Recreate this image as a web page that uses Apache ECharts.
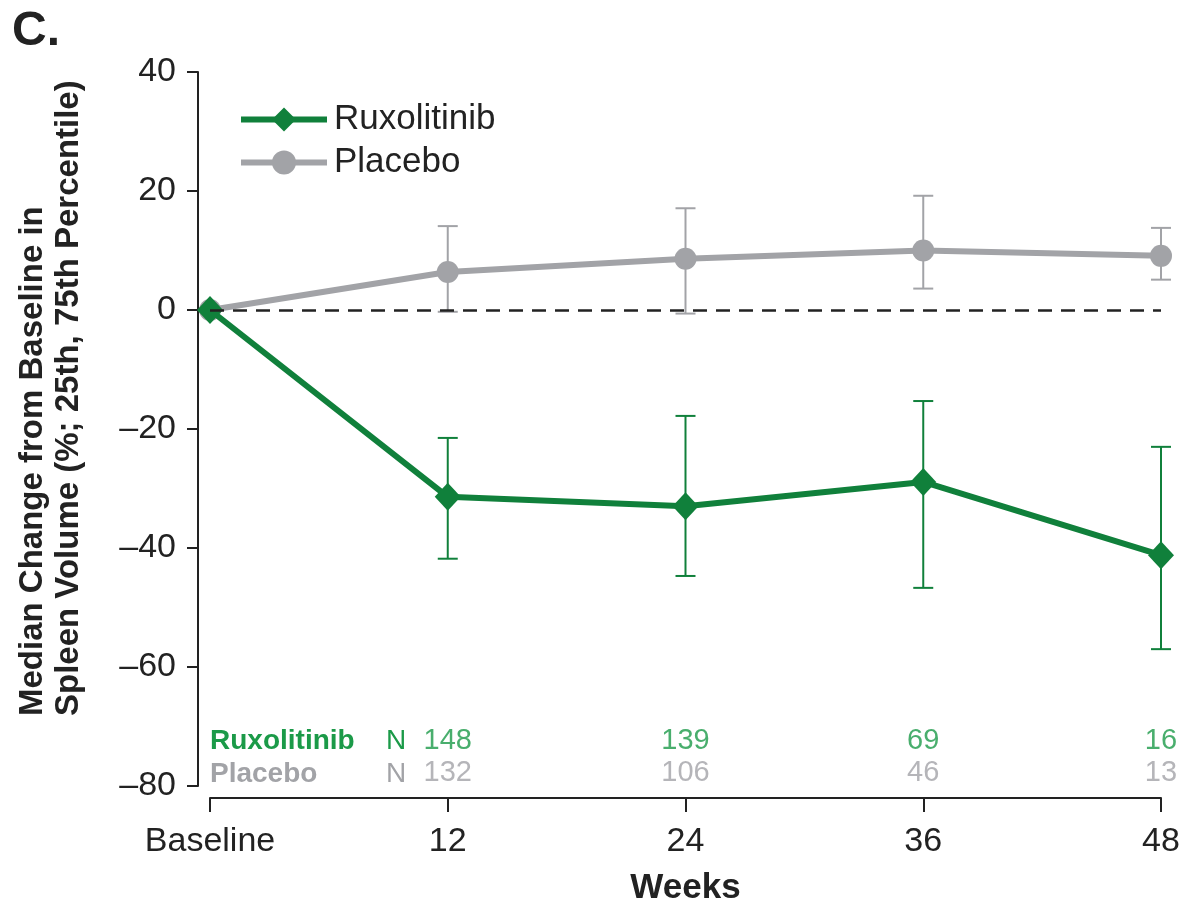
<!DOCTYPE html>
<html>
<head>
<meta charset="utf-8">
<script src="https://cdn.jsdelivr.net/npm/echarts@6/dist/echarts.min.js"></script>
<style>
  html, body { margin: 0; padding: 0; background: #fff; }
  #chart { width: 1196px; height: 904px; }
</style>
</head>
<body>
<div id="chart"></div>
<script>
  // weeks (0 = Baseline)
  var weeks = [0, 12, 24, 36, 48];
  var xTickLabels = ['Baseline', '12', '24', '36', '48'];

  // median % change, 25th and 75th percentiles
  var ruxMedian = [0, -31.4, -33.0, -28.9, -41.2];
  var ruxP25 = [0, -41.8, -44.7, -46.7, -57.0];
  var ruxP75 = [0, -21.5, -17.8, -15.3, -23.0];

  var pboMedian = [0, 6.4, 8.6, 10.0, 9.1];
  var pboP25 = [0, -0.3, -0.6, 3.6, 5.1];
  var pboP75 = [0, 14.1, 17.1, 19.2, 13.8];

  // patients at risk, weeks 12..48
  var nWeeks = [12, 24, 36, 48];
  var ruxN = [148, 139, 69, 16];
  var pboN = [132, 106, 46, 13];

  var GREEN = '#10803b';
  var GREEN_TXT = '#1b9a48';
  var GRAY = '#a2a3a7';
  var FONT = '"Liberation Sans", Arial, Helvetica, sans-serif';

  function pairs(xs, ys) {
    return xs.map(function (x, i) { return [x, ys[i]]; });
  }
  function errData(lo, hi) {
    var out = [];
    for (var i = 1; i < weeks.length; i++) out.push([weeks[i], lo[i], hi[i]]);
    return out;
  }
  function errRender(color) {
    return function (params, api) {
      var top = api.coord([api.value(0), api.value(2)]);
      var bot = api.coord([api.value(0), api.value(1)]);
      var half = 10;
      var st = { stroke: color, lineWidth: 2 };
      return {
        type: 'group',
        children: [
          { type: 'line', shape: { x1: top[0], y1: top[1], x2: bot[0], y2: bot[1] }, style: st },
          { type: 'line', shape: { x1: top[0] - half, y1: top[1], x2: top[0] + half, y2: top[1] }, style: st },
          { type: 'line', shape: { x1: bot[0] - half, y1: bot[1], x2: bot[0] + half, y2: bot[1] }, style: st }
        ]
      };
    };
  }
  function nSeries(vals, y, color) {
    return {
      type: 'scatter',
      symbolSize: 0,
      silent: true,
      data: nWeeks.map(function (w, i) { return [w, y, vals[i]]; }),
      label: {
        show: true, position: 'inside',
        formatter: function (p) { return String(p.value[2]); },
        color: color, fontSize: 29, fontFamily: FONT
      },
      z: 5
    };
  }

  var chart = echarts.init(document.getElementById('chart'));
  var option = {
    animation: false,
    backgroundColor: '#fff',
    textStyle: { fontFamily: FONT },
    grid: { left: 210, right: 35, top: 72, bottom: 118, outerBoundsMode: 'none', containLabel: false },
    legend: {
      data: ['Ruxolitinib', 'Placebo'],
      orient: 'vertical',
      left: 238, top: 102,
      padding: 0,
      itemWidth: 86, itemHeight: 30,
      itemGap: 8,
      lineStyle: { width: 6 },
      textStyle: { fontSize: 35, color: '#222', fontFamily: FONT, padding: [0, 0, 0, 2] }
    },
    xAxis: {
      type: 'value',
      min: 0, max: 48, interval: 12,
      offset: 12,
      axisLine: { onZero: false, lineStyle: { color: '#222', width: 2 } },
      axisTick: { length: 14, lineStyle: { color: '#222', width: 2 } },
      splitLine: { show: false },
      axisLabel: {
        fontSize: 34, color: '#222', margin: 27,
        formatter: function (v) { return xTickLabels[weeks.indexOf(v)]; }
      },
      name: 'Weeks',
      nameLocation: 'middle',
      nameGap: 73,
      nameTextStyle: { fontSize: 35, fontWeight: 'bold', color: '#222' }
    },
    yAxis: {
      type: 'value',
      min: -80, max: 40, interval: 20,
      offset: 12,
      axisLine: { show: true, onZero: false, lineStyle: { color: '#222', width: 2 } },
      axisTick: { show: true, length: 11, lineStyle: { color: '#222', width: 2 } },
      splitLine: { show: false },
      axisLabel: {
        fontSize: 34, color: '#222', margin: 22,
        formatter: function (v) { return String(v).replace('-', '\u2013'); }
      }
    },
    graphic: [
      { type: 'text', left: 12, top: 8, style: { text: 'C.', fontSize: 48, fontWeight: 'bold', fill: '#222', fontFamily: FONT } },
      { type: 'text', x: 33, y: 716, rotation: Math.PI / 2,
        style: { text: 'Median Change from Baseline in', fontSize: 33, fontWeight: 'bold', fill: '#222', fontFamily: FONT, textAlign: 'left', textVerticalAlign: 'middle' } },
      { type: 'text', x: 69, y: 716, rotation: Math.PI / 2,
        style: { text: 'Spleen Volume (%; 25th, 75th Percentile)', fontSize: 33, fontWeight: 'bold', fill: '#222', fontFamily: FONT, textAlign: 'left', textVerticalAlign: 'middle' } },
      { type: 'text', x: 210, y: 741,
        style: { text: 'Ruxolitinib', fontSize: 28, fontWeight: 'bold', fill: GREEN_TXT, fontFamily: FONT, textVerticalAlign: 'middle' } },
      { type: 'text', x: 386, y: 741,
        style: { text: 'N', fontSize: 28, fill: GREEN_TXT, fontFamily: FONT, textVerticalAlign: 'middle' } },
      { type: 'text', x: 210, y: 774,
        style: { text: 'Placebo', fontSize: 28, fontWeight: 'bold', fill: GRAY, fontFamily: FONT, textVerticalAlign: 'middle' } },
      { type: 'text', x: 386, y: 774,
        style: { text: 'N', fontSize: 28, fill: GRAY, fontFamily: FONT, textVerticalAlign: 'middle' } }
    ],
    series: [
      {
        name: 'Placebo-err', type: 'custom', renderItem: errRender(GRAY),
        data: errData(pboP25, pboP75), z: 2, silent: true
      },
      {
        name: 'Ruxolitinib-err', type: 'custom', renderItem: errRender(GREEN),
        data: errData(ruxP25, ruxP75), z: 2, silent: true
      },
      {
        name: 'Placebo', type: 'line',
        data: pairs(weeks, pboMedian),
        symbol: 'circle', symbolSize: 22,
        lineStyle: { color: GRAY, width: 6 },
        itemStyle: { color: GRAY },
        z: 3,
        markLine: {
          silent: true, symbol: 'none', label: { show: false },
          lineStyle: { color: '#222', type: [14, 9], width: 2.5 },
          data: [[{ coord: [0, 0] }, { coord: [48, 0] }]]
        }
      },
      {
        name: 'Ruxolitinib', type: 'line',
        data: pairs(weeks, ruxMedian),
        symbol: 'diamond', symbolSize: [26, 28],
        lineStyle: { color: GREEN, width: 6 },
        itemStyle: { color: GREEN },
        z: 4
      },
      nSeries(ruxN, -72.4, GREEN_TXT),
      nSeries(pboN, -77.8, GRAY)
    ]
  };
  chart.setOption(option);
</script>
</body>
</html>
